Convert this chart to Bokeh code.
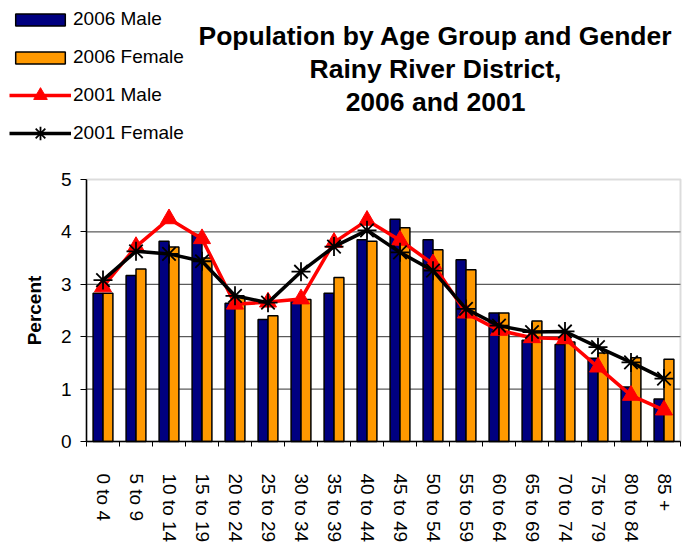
import math
from bokeh.plotting import figure
from bokeh.models import (ColumnDataSource, Range1d, FixedTicker, Legend,
                          LegendItem, Label, BoxAnnotation)
from bokeh.embed import file_html
from bokeh.resources import INLINE

categories = ["0 to 4", "5 to 9", "10 to 14", "15 to 19", "20 to 24", "25 to 29",
              "30 to 34", "35 to 39", "40 to 44", "45 to 49", "50 to 54", "55 to 59",
              "60 to 64", "65 to 69", "70 to 74", "75 to 79", "80 to 84", "85 +"]
male_2006 = [2.83, 3.17, 3.82, 3.95, 2.64, 2.33, 2.69, 2.83, 3.85, 4.24,
             3.85, 3.47, 2.45, 1.93, 1.85, 1.59, 1.04, 0.81]
female_2006 = [2.83, 3.29, 3.71, 3.50, 2.75, 2.40, 2.71, 3.13, 3.82, 4.08,
               3.66, 3.28, 2.45, 2.30, 1.90, 1.69, 1.60, 1.57]
male_2001 = [2.95, 3.72, 4.25, 3.87, 2.62, 2.66, 2.72, 3.80, 4.22, 3.84,
             3.39, 2.45, 2.12, 1.98, 1.96, 1.42, 0.88, 0.60]
female_2001 = [3.08, 3.63, 3.58, 3.44, 2.78, 2.65, 3.24, 3.72, 4.03, 3.61,
               3.26, 2.53, 2.21, 2.09, 2.10, 1.80, 1.51, 1.20]
y_ticks = [0, 1, 2, 3, 4, 5]
series_names = ["2006 Male", "2006 Female", "2001 Male", "2001 Female"]
title_lines = ["Population by Age Group and Gender", "Rainy River District,", "2006 and 2001"]

FONT = "Liberation Sans"
NAVY, ORANGE, RED = "#000080", "#FF9900", "#FF0000"
n = len(categories)
centers = [i + 0.5 for i in range(n)]
bw = 0.3
y_max = y_ticks[-1]

# canvas geometry (pixels): the plotting frame covers the whole canvas and
# the value area sits inside it; both axes are pinned at 0.
W, H = 690, 548
AX_L, AX_R, AX_T, AX_B = 86, 680, 179, 441
px_x = (AX_R - AX_L) / n
px_y = (AX_B - AX_T) / y_max
x_range = Range1d(-AX_L / px_x, n + (W - AX_R) / px_x)
y_range = Range1d(-(H - AX_B) / px_y, y_max + AX_T / px_y)

src = ColumnDataSource(dict(
    x=centers,
    xm=[c - bw / 2 for c in centers],
    xf=[c + bw / 2 for c in centers],
    m06=male_2006, f06=female_2006, m01=male_2001, f01=female_2001,
))
grid_src = ColumnDataSource(dict(y=y_ticks[1:-1]))

p = figure(width=W, height=H, x_range=x_range, y_range=y_range, title=None,
           output_backend="svg", toolbar_location=None, min_border=0)
p.outline_line_color = None
p.background_fill_color = "white"
p.border_fill_color = "white"
p.xgrid.grid_line_color = None
p.ygrid.grid_line_color = None

# value-area frame (grey) and horizontal gridlines limited to the value area
p.add_layout(BoxAnnotation(left=0, right=n, bottom=0, top=y_max, fill_color=None,
                           line_color="#8c8c8c", line_width=2, level="underlay"))
p.segment(x0=0, x1=n, y0="y", y1="y", source=grid_src, line_color="#333333",
          line_width=1, level="underlay")

r_m06 = p.vbar(x="xm", top="m06", width=bw, source=src, fill_color=NAVY,
               line_color="black", line_width=1.5)
r_f06 = p.vbar(x="xf", top="f06", width=bw, source=src, fill_color=ORANGE,
               line_color="black", line_width=1.5)
r_lm = p.line("x", "m01", source=src, line_color=RED, line_width=3.5)
r_sm = p.scatter("x", "m01", source=src, marker="triangle", size=17,
                 fill_color=RED, line_color=RED)
r_lf = p.line("x", "f01", source=src, line_color="black", line_width=3.5)
r_sf = p.scatter("x", "f01", source=src, marker="asterisk", size=19,
                 line_color="black", line_width=1.8)

# x axis pinned at y = 0
xa = p.xaxis[0]
xa.fixed_location = 0
xa.bounds = (0, n)
xa.ticker = FixedTicker(ticks=centers, minor_ticks=list(range(n + 1)))
xa.major_label_overrides = {c: lab for c, lab in zip(centers, categories)}
xa.major_tick_line_color = None
xa.major_tick_out = 0
xa.major_tick_in = 0
xa.minor_tick_out = 5
xa.minor_tick_in = 0
xa.minor_tick_line_color = "black"
xa.axis_line_color = "black"
xa.axis_line_width = 1.5
xa.major_label_orientation = -math.pi / 2
xa.major_label_text_font = FONT
xa.major_label_text_font_size = "19px"
xa.major_label_text_color = "black"
xa.major_label_standoff = 27

# y axis pinned at x = 0
ya = p.yaxis[0]
ya.fixed_location = 0
ya.bounds = (0, y_max)
ya.ticker = FixedTicker(ticks=y_ticks)
ya.major_tick_out = 6
ya.major_tick_in = 0
ya.minor_tick_line_color = None
ya.axis_line_color = "black"
ya.axis_line_width = 1.5
ya.major_label_text_font = FONT
ya.major_label_text_font_size = "19px"
ya.major_label_text_color = "black"
ya.major_label_standoff = 9
ya.axis_label = "Percent"
ya.axis_label_text_font = FONT
ya.axis_label_text_font_size = "19px"
ya.axis_label_text_font_style = "bold"
ya.axis_label_text_color = "black"
ya.axis_label_standoff = 13

common = dict(orientation="vertical", glyph_width=62, label_text_font=FONT,
              label_text_font_size="19px", label_text_color="black",
              label_standoff=2, label_height=20, padding=0, margin=0,
              border_line_color=None, background_fill_alpha=0)
legend_bars = Legend(items=[
    LegendItem(label=series_names[0], renderers=[r_m06]),
    LegendItem(label=series_names[1], renderers=[r_f06]),
], location=(9, H - 68), glyph_height=15, spacing=16, **common)
legend_lines = Legend(items=[
    LegendItem(label=series_names[2], renderers=[r_lm, r_sm]),
    LegendItem(label=series_names[3], renderers=[r_lf, r_sf]),
], location=(9, H - 150), glyph_height=34, spacing=4, **common)
p.add_layout(legend_bars)
p.add_layout(legend_lines)

for t, yy in zip(title_lines, [35, 68, 101]):
    p.add_layout(Label(x=435, y=H - yy, x_units="screen", y_units="screen", text=t,
                       text_align="center", text_baseline="middle",
                       text_font=FONT, text_font_size="26.5px",
                       text_font_style="bold", text_color="black"))

open("out.html", "w").write(file_html(p, INLINE))
